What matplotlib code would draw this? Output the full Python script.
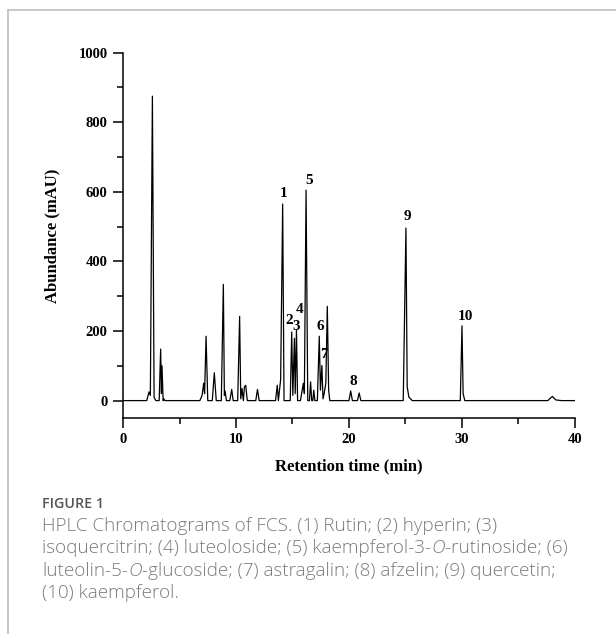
import matplotlib.pyplot as plt
from matplotlib.ticker import MultipleLocator

# вершины хроматограммы (время, мин / отклик, mAU)
time_min = [0, 2.1, 2.3, 2.42, 2.6, 2.75, 2.9, 3.2, 3.33, 3.40, 3.45, 3.55, 3.62, 3.7,
            6.8, 7.0, 7.14, 7.22, 7.35, 7.5, 7.9, 8.08, 8.25, 8.7, 8.88, 8.97, 9.03, 9.15,
            9.45, 9.62, 9.75, 10.15, 10.32, 10.42, 10.53, 10.65, 10.75, 10.86, 11.0,
            11.75, 11.9, 12.05, 13.5, 13.65, 13.75, 13.85, 13.95, 14.13, 14.25,
            14.8, 14.93, 15.03, 15.17, 15.24, 15.35, 15.45, 15.7, 15.96, 16.05, 16.2, 16.35,
            16.5, 16.6, 16.7, 16.8, 16.88, 16.98, 17.2, 17.37, 17.47, 17.6, 17.7, 17.8,
            17.95, 18.08, 18.2, 18.3, 20.0, 20.15, 20.3, 20.75, 20.9, 21.05,
            24.8, 25.04, 25.15, 25.3, 25.6, 29.85, 30.0, 30.1, 30.25,
            37.6, 37.85, 38.0, 38.3, 38.8, 40]
abundance = [0, 0, 25, 15, 875, 10, 0, 0, 148, 20, 100, 0, 5, 0,
             0, 15, 50, 20, 185, 0, 0, 80, 0, 0, 334, 15, 28, 0,
             0, 32, 0, 0, 242, 5, 35, 0, 40, 44, 0,
             0, 32, 0, 0, 44, 0, 30, 60, 565, 0,
             0, 197, 15, 179, 20, 202, 0, 0, 50, 20, 605, 0,
             0, 54, 0, 0, 30, 0, 0, 185, 30, 101, 5, 20,
             50, 271, 30, 0, 0, 28, 0, 0, 22, 0,
             0, 496, 40, 10, 0, 0, 215, 20, 0,
             0, 8, 12, 2, 0, 0]

# подписи пиков
peak_labels = ['1', '2', '3', '4', '5', '6', '7', '8', '9', '10']
label_t = [14.25, 14.72, 15.34, 15.64, 16.46, 17.5, 17.8, 20.35, 25.2, 30.3]
label_y = [595, 231, 214, 262, 634, 214, 133, 54, 530, 243]

caption_title = 'FIGURE 1'
# куски строк подписи: (текст, курсив?)
caption_lines = [[('HPLC Chromatograms of FCS. (1) Rutin; (2) hyperin; (3)', False)],
                 [('isoquercitrin; (4) luteoloside; (5) kaempferol-3-', False), ('O', True),
                  ('-rutinoside; (6)', False)],
                 [('luteolin-5-', False), ('O', True),
                  ('-glucoside; (7) astragalin; (8) afzelin; (9) quercetin;', False)],
                 [('(10) kaempferol.', False)]]

plt.rcParams['font.family'] = 'Liberation Serif'

fig = plt.figure(figsize=(6.16, 6.34), dpi=100)
ax = fig.add_axes([0.1997, 0.3407, 0.7337, 0.5762])

ax.plot(time_min, abundance, color='black', lw=0.9)
for lab, t, y in zip(peak_labels, label_t, label_y):
    ax.text(t, y, lab, ha='center', va='center', fontsize=11, fontweight='bold')

ax.set_xlim(0, 40)
ax.set_ylim(-50, 1000)
ax.xaxis.set_major_locator(MultipleLocator(10))
ax.xaxis.set_minor_locator(MultipleLocator(5))
ax.yaxis.set_major_locator(MultipleLocator(200))
ax.yaxis.set_minor_locator(MultipleLocator(100))
ax.tick_params(which='major', direction='out', length=7, width=1.1, labelsize=10.5, pad=4)
ax.tick_params(which='minor', direction='out', length=4, width=1.1)
for lbl in ax.get_xticklabels() + ax.get_yticklabels():
    lbl.set_fontweight('bold')
for s in ['top', 'right']:
    ax.spines[s].set_visible(False)
for s in ['left', 'bottom']:
    ax.spines[s].set_linewidth(1.1)

ax.set_xlabel('Retention time (min)', fontsize=12, fontweight='bold', labelpad=9)
ax.set_ylabel('Abundance (mAU)', fontsize=12, fontweight='bold', labelpad=13)

# рамка вокруг рисунка
fig.add_artist(plt.Line2D([8 / 616, 8 / 616], [0, 1 - 10 / 634], color='#c4c4c4', lw=1.3))
fig.add_artist(plt.Line2D([8 / 616, 1], [1 - 10 / 634, 1 - 10 / 634], color='#c4c4c4', lw=1.3))

# подпись к рисунку
fig.text(42 / 616, 1 - 504 / 634, caption_title, fontsize=10.3, color='#555555',
         family='Open Sans', fontweight='semibold', va='center')
renderer = fig.canvas.get_renderer()
for i, parts in enumerate(caption_lines):
    x = 42 / 616
    y = 1 - (526 + 22.4 * i) / 634
    for txt, ital in parts:
        t = fig.text(x, y, txt, fontsize=13.6, color='#7a7a7a', family='Open Sans',
                     fontweight='light', style='italic' if ital else 'normal',
                     va='center')
        bb = t.get_window_extent(renderer)
        x += bb.width / fig.bbox.width

fig.savefig('out.png', dpi=100)
